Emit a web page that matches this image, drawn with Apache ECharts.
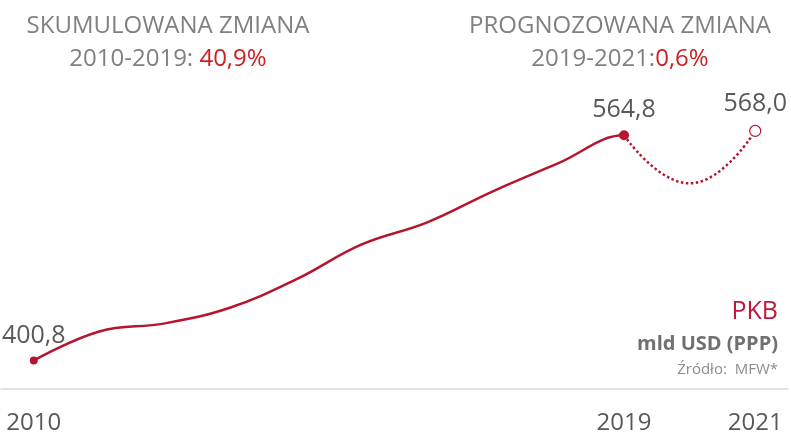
<!DOCTYPE html>
<html>
<head>
<meta charset="utf-8">
<style>
  html, body { margin: 0; padding: 0; background: #fff; }
  #pkb-chart { width: 791px; height: 438px; }
</style>
<script src="https://cdn.jsdelivr.net/npm/echarts@6/dist/echarts.min.js"></script>
</head>
<body>
<div id="pkb-chart"></div>
<script>
// dane
const years = ["2010", "2011", "2012", "2013", "2014", "2015", "2016", "2017", "2018", "2019", "2020", "2021"];
const pkbActual = [400.8, 421.9, 427.8, 439.4, 459.8, 485.3, 501.4, 524.0, 544.5, 564.8, null, null];
const pkbForecast = [null, null, null, null, null, null, null, null, null, 564.8, 529.8, 568.0];
const shownYears = ["2010", "2019", "2021"];

const red = "#b5152f";
const fmt = (v) => v.toFixed(1).replace(".", ",");

let initChart = () => {
  let chart = echarts.init(document.getElementById("pkb-chart"));

  // linia ciagla: punkty do 2019 + punkt 2020 tylko dla ksztaltu krzywej (przyciete na 2019)
  let solidData = [];
  years.forEach((y, i) => {
    let v = pkbActual[i] != null ? pkbActual[i] : pkbForecast[i];
    if (i <= 10) solidData.push([Number(y), v]);
  });

  let labelStyle = {
    show: true,
    position: "top",
    distance: 8,
    fontFamily: "Open Sans",
    fontSize: 25,
    color: "#595959",
    formatter: (p) => fmt(Array.isArray(p.value) ? p.value[1] : p.value),
  };

  let forecastData = pkbForecast.map((v, i) => {
    if (i === 9) {
      return { value: v, symbol: "circle", symbolSize: 10, label: labelStyle };
    }
    if (i === 11) {
      return {
        value: v,
        symbol: "circle",
        symbolSize: 11,
        itemStyle: { color: "#fff", borderColor: red, borderWidth: 1.2 },
        label: labelStyle,
      };
    }
    return { value: v, symbol: "none" };
  });

  let firstPoint = {
    value: solidData[0],
    symbol: "circle",
    symbolSize: 8,
    label: labelStyle,
  };
  solidData = solidData.map((d, i) => (i === 0 ? firstPoint : { value: d, symbol: "none" }));

  let head = { fontFamily: "Open Sans", fontSize: 24, fontWeight: "normal", color: "#808080", lineHeight: 33 };
  let headRed = { fontFamily: "Open Sans", fontSize: 24, fontWeight: "normal", color: "#cc1f1f", lineHeight: 33 };

  var option = {
    animation: false,
    title: [
      {
        text: "{a|SKUMULOWANA ZMIANA}\n{a|2010-2019: }{r|40,9%}",
        left: 163,
        top: 5,
        textAlign: "center",
        textStyle: { fontWeight: "normal", rich: { a: head, r: headRed } },
      },
      {
        text: "{a|PROGNOZOWANA ZMIANA}\n{a|2019-2021:}{r|0,6%}",
        left: 615,
        top: 5,
        textAlign: "center",
        textStyle: { fontWeight: "normal", rich: { a: head, r: headRed } },
      },
    ],
    graphic: [
      {
        type: "text",
        right: 13,
        top: 299,
        style: {
          text: "PKB",
          fontFamily: "Open Sans",
          fontSize: 25,
          fill: "#c0183a",
        },
      },
      {
        type: "text",
        right: 13,
        top: 334,
        style: {
          text: "mld USD (PPP)",
          fontFamily: "Open Sans",
          fontSize: 20,
          fontWeight: "bold",
          fill: "#707070",
        },
      },
      {
        type: "text",
        right: 13,
        top: 362,
        style: {
          text: "Źródło:  MFW*",
          fontFamily: "Open Sans",
          fontSize: 15,
          fill: "#8c8c8c",
        },
      },
    ],
    grid: [
      { left: 1, right: 3, top: 87, bottom: 49 },
      { left: 1, right: 167, top: 87, bottom: 49 },
    ],
    xAxis: [
      {
        type: "category",
        data: years,
        gridIndex: 0,
        boundaryGap: true,
        axisLine: { show: true, lineStyle: { color: "#d9d9d9", width: 1.5 } },
        axisTick: { show: false },
        axisLabel: {
          interval: (index, value) => shownYears.includes(value),
          formatter: (value) => (shownYears.includes(value) ? value : ""),
          margin: 22,
          fontFamily: "Open Sans",
          fontSize: 24,
          color: "#595959",
        },
        splitLine: { show: false },
      },
      {
        type: "value",
        gridIndex: 1,
        min: 2009.5,
        max: 2019,
        show: false,
        splitLine: { show: false },
      },
    ],
    yAxis: [
      { type: "value", gridIndex: 0, min: 380, max: 600, show: false, splitLine: { show: false } },
      { type: "value", gridIndex: 1, min: 380, max: 600, show: false, splitLine: { show: false } },
    ],
    series: [
      {
        name: "PKB",
        type: "line",
        xAxisIndex: 1,
        yAxisIndex: 1,
        smooth: 0.4,
        clip: true,
        data: solidData,
        lineStyle: { color: red, width: 2.5 },
        itemStyle: { color: red },
        silent: true,
        z: 3,
      },
      {
        name: "Prognoza",
        type: "line",
        xAxisIndex: 0,
        yAxisIndex: 0,
        smooth: 0.5,
        data: forecastData,
        lineStyle: { color: red, width: 2.5, type: "dotted" },
        itemStyle: { color: red },
        silent: true,
        z: 4,
      },
    ],
  };

  chart.setOption(option);
  window.onresize = function () {
    chart.resize();
  };
};

initChart();
</script>
</body>
</html>
